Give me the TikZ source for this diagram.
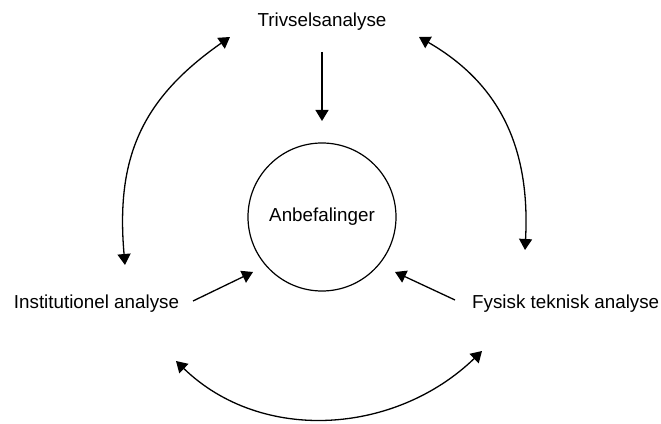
\documentclass[tikz,border=0pt]{standalone}
\usepackage{fontspec}
\setmainfont{Liberation Sans}
\usetikzlibrary{arrows.meta}
\begin{document}
\begin{tikzpicture}[x=1pt,y=1pt,
  lbl/.style={inner sep=0pt, font=\fontsize{18.8}{22}\selectfont},
  arr/.style={line width=1.3pt, -{Triangle[length=11pt,width=13pt]}},
  darr/.style={line width=1.3pt, {Triangle[length=11pt,width=13pt]}-{Triangle[length=11pt,width=13pt]}}]
\useasboundingbox (0,0) rectangle (661,423);
\node[lbl] (triv) at (322,401) {Trivselsanalyse};
\node[lbl, circle, draw, line width=1.2pt, minimum size=148pt] (anb) at (322,206) {Anbefalinger};
\node[lbl] (inst) at (96.5,119) {Institutionel analyse};
\node[lbl, anchor=west] (fys) at (472,119) {Fysisk teknisk analyse};
% endpoints
\coordinate (dS) at (322,371);
\coordinate (dE) at (322,302);
\coordinate (lS) at (193,122);
\coordinate (lE) at (253,151);
\coordinate (rS) at (455,123);
\coordinate (rE) at (395,151);
\coordinate (aT) at (230,386);
\coordinate (aB) at (125,158);
\coordinate (bT) at (419,386);
\coordinate (bB) at (525,173);
\coordinate (cL) at (176,62);
\coordinate (cR) at (482,72);
\draw[arr] (dS) -- (dE);
\draw[arr] (lS) -- (lE);
\draw[arr] (rS) -- (rE);
\draw[darr] (aT) to[out=215,in=95,looseness=1.1] (aB);
\draw[darr] (bT) to[out=-30,in=87,looseness=1.05] (bB);
\draw[darr] (cL) to[out=-44,in=224] (cR);
\end{tikzpicture}
\end{document}
